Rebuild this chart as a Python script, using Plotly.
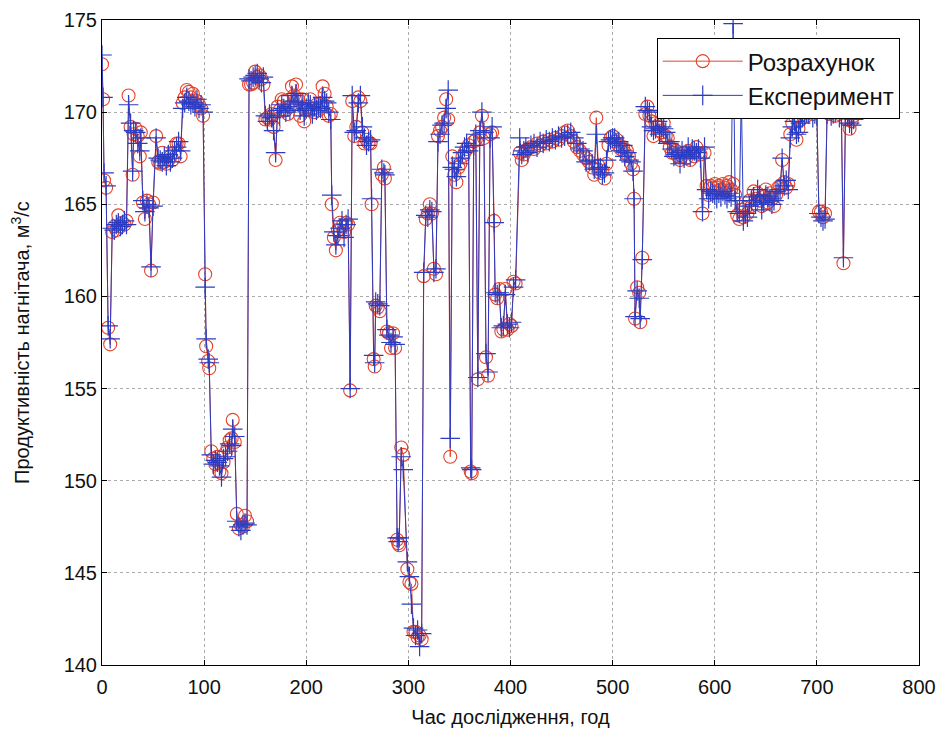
import plotly.graph_objects as go

# Час дослідження, год
hours = [
    0, 1, 2, 4, 6, 8, 10, 12, 14, 16, 18, 20, 22, 24, 26, 28, 30, 31, 33, 35,
    37, 38, 40, 42, 44, 46, 48, 50, 53, 55, 57, 59, 61, 63, 65, 67, 69, 71, 73, 75,
    77, 79, 81, 83, 85, 87, 89, 91, 93, 95, 97, 99, 101, 102, 104, 105, 107, 109, 111, 113,
    115, 117, 119, 121, 123, 125, 127, 128, 130, 132, 134, 136, 138, 140, 142, 144, 146, 148, 150, 152,
    154, 156, 158, 160, 162, 164, 166, 168, 170, 172, 174, 176, 178, 180, 182, 184, 186, 188, 190, 192,
    194, 196, 198, 200, 202, 204, 206, 208, 210, 212, 214, 216, 218, 220, 222, 224, 225, 227, 229, 231,
    233, 235, 237, 239, 241, 243, 245, 247, 249, 251, 253, 255, 257, 259, 261, 263, 264, 266, 267, 268,
    270, 272, 274, 276, 277, 279, 281, 283, 285, 287, 289, 290, 291, 293, 295, 299, 301, 303, 305, 307,
    309, 311, 313, 315, 317, 319, 321, 323, 325, 327, 329, 331, 333, 335, 337, 339, 341, 343, 345, 347,
    349, 351, 353, 355, 357, 359, 361, 362, 364, 366, 368, 370, 372, 374, 376, 378, 380, 382, 384, 385,
    387, 389, 391, 393, 395, 397, 399, 401, 403, 405, 409, 411, 413, 415, 417, 420, 423, 426, 429, 432,
    435, 438, 441, 444, 447, 450, 453, 456, 459, 462, 465, 468, 471, 474, 477, 480, 482, 484, 486, 488,
    490, 492, 494, 496, 498, 500, 502, 504, 506, 508, 510, 512, 514, 516, 518, 520, 521, 522, 524, 526,
    527, 529, 532, 534, 536, 538, 540, 542, 544, 546, 548, 550, 552, 554, 556, 558, 560, 562, 564, 566,
    568, 570, 572, 574, 576, 578, 580, 582, 584, 586, 588, 590, 592, 594, 596, 598, 600, 602, 604, 606,
    608, 610, 612, 614, 616, 618, 620, 622, 624, 626, 628, 630, 632, 634, 636, 638, 640, 642, 644, 646,
    648, 650, 652, 654, 656, 658, 660, 662, 664, 666, 668, 670, 672, 674, 676, 678, 680, 682, 684, 686,
    688, 690, 692, 694, 696, 698, 700, 702, 704, 706, 708, 710, 712, 714, 716, 718, 720, 722, 724, 726,
    728, 730, 732, 734, 736,
]

# Розрахунок (м3/с)
calc = [
    172.6, 170.7, 166.3, 165.9, 158.3, 157.4, 163.5, 163.8, 163.6, 164.4, 163.8, 164.0, 163.9, 164.1, 170.9, 169.2, 166.6, 168.8, 169.1, 168.7,
    167.6, 168.9, 165.1, 164.2, 165.2, 165.0, 161.4, 165.1, 168.7, 167.3, 167.2, 167.8, 167.3, 167.2, 167.4, 167.6, 167.4, 167.8, 168.3, 168.3,
    167.6, 170.5, 170.8, 171.2, 171.1, 170.8, 171.0, 170.5, 170.6, 170.4, 170.2, 169.8, 161.2, 157.3, 156.5, 156.1, 151.6, 151.2, 150.9, 151.3,
    150.5, 150.4, 151.0, 151.5, 151.8, 152.2, 152.3, 153.3, 152.1, 148.2, 147.4, 147.6, 147.5, 148.1, 147.8, 171.5, 171.5, 171.6, 172.2, 171.9,
    172.0, 171.8, 171.5, 169.6, 169.7, 169.6, 169.9, 169.2, 167.4, 170.3, 170.1, 170.7, 170.6, 170.1, 169.9, 170.3, 171.4, 170.9, 171.5, 170.7,
    169.8, 170.7, 169.5, 170.1, 170.3, 170.7, 170.2, 170.0, 170.4, 170.1, 170.5, 171.4, 171.0, 170.3, 169.8, 169.9, 165.0, 163.2, 162.5, 163.6,
    164.0, 163.8, 163.5, 164.0, 163.9, 154.9, 170.6, 168.7, 169.2, 170.8, 170.6, 168.9, 168.3, 168.5, 168.3, 168.3, 165.0, 156.6, 156.2, 159.5,
    159.4, 159.2, 166.6, 167.0, 166.4, 158.1, 158.0, 157.2, 158.0, 157.2, 146.8, 146.6, 146.5, 151.8, 151.4, 145.2, 144.5, 144.4, 141.8, 141.8,
    141.5, 141.6, 141.4, 161.1, 164.2, 164.5, 165.0, 164.5, 161.5, 161.2, 168.7, 169.0, 169.2, 169.7, 170.7, 169.6, 151.3, 167.6, 166.6, 166.2,
    167.0, 167.2, 167.6, 167.8, 168.0, 168.2, 150.5, 150.4, 168.4, 168.5, 155.5, 168.9, 169.8, 168.6, 156.7, 155.7, 168.8, 168.9, 164.1, 160.1,
    159.9, 160.4, 158.1, 158.2, 160.4, 158.2, 158.5, 158.4, 160.8, 160.7, 167.8, 167.4, 167.7, 167.9, 168.0, 168.1, 168.0, 168.3, 168.2, 168.4,
    168.3, 168.5, 168.4, 168.6, 168.5, 168.7, 168.9, 169.0, 168.7, 168.4, 168.1, 167.9, 167.7, 167.5, 167.3, 167.0, 166.6, 169.7, 167.1, 166.7,
    166.8, 166.4, 167.2, 168.2, 168.6, 168.7, 168.4, 168.5, 168.2, 168.0, 168.1, 167.8, 167.9, 167.6, 167.2, 166.9, 165.3, 158.8, 160.5, 160.2,
    158.6, 162.1, 169.9, 170.3, 169.8, 169.5, 168.7, 169.4, 169.2, 169.0, 168.9, 169.4, 168.7, 168.6, 168.1, 167.8, 167.8, 167.9, 167.6, 167.4,
    167.6, 167.8, 167.5, 167.9, 167.4, 167.8, 167.6, 168.1, 167.8, 167.7, 164.5, 167.8, 166.0, 165.5, 166.0, 165.9, 166.1, 165.9, 166.0, 165.8,
    166.1, 165.9, 166.0, 166.2, 165.8, 166.1, 165.5, 164.4, 164.2, 164.7, 164.3, 164.8, 164.5, 165.2, 164.9, 165.7, 165.3, 165.6, 165.2, 164.9,
    165.4, 165.8, 165.1, 165.6, 165.3, 164.9, 165.5, 165.9, 166.0, 167.4, 166.2, 165.9, 166.1, 168.8, 169.4, 169.8, 168.5, 169.1, 169.6, 169.9,
    170.1, 169.8, 170.2, 170.0, 169.9, 170.1, 170.0, 164.6, 164.6, 164.3, 164.5, 170.1, 169.9, 170.0, 170.2, 169.8, 170.1, 169.9, 170.0, 161.8,
    170.0, 169.6, 169.1, 169.5, 169.8,
]

# Експеримент (м3/с)
exp = [
    173.1, 170.8, 166.7, 166.0, 158.4, 157.7, 163.7, 163.6, 163.9, 164.0, 163.8, 163.9, 164.1, 163.9, 170.4, 169.4, 166.8, 169.0, 168.9, 168.3,
    167.9, 168.6, 165.2, 164.6, 165.0, 164.8, 161.6, 164.9, 168.6, 167.5, 167.4, 167.3, 167.6, 167.1, 167.7, 167.3, 167.5, 167.9, 168.1, 168.4,
    167.9, 170.2, 170.5, 170.8, 170.6, 170.4, 170.5, 170.3, 170.7, 170.2, 170.4, 170.0, 160.5, 157.7, 156.6, 156.4, 151.4, 150.9, 151.1, 151.0,
    150.8, 150.2, 151.2, 151.3, 151.6, 152.0, 151.9, 152.8, 152.4, 147.8, 147.5, 147.3, 147.6, 147.7, 147.6, 171.8, 171.7, 171.9, 172.0, 172.1,
    171.8, 171.6, 171.9, 169.8, 169.5, 169.9, 169.7, 169.0, 167.8, 170.1, 169.8, 170.4, 170.2, 170.0, 170.3, 170.1, 170.9, 170.6, 171.0, 170.5,
    170.1, 170.4, 169.8, 170.2, 170.5, 170.4, 169.9, 170.3, 170.1, 170.3, 170.2, 170.8, 170.6, 170.5, 170.0, 169.6, 165.5, 163.5, 162.8, 163.3,
    163.7, 164.1, 163.2, 163.9, 164.2, 155.0, 170.9, 168.9, 169.0, 170.5, 170.9, 169.2, 168.6, 168.2, 168.4, 168.5, 165.3, 156.8, 156.4, 159.7,
    159.6, 159.5, 166.9, 166.7, 166.6, 158.2, 157.9, 157.5, 157.8, 157.4, 146.9, 146.7, 146.9, 151.3, 150.6, 145.6, 144.8, 143.3, 142.0, 141.6,
    141.9, 141.0, 141.7, 161.3, 164.4, 164.3, 164.7, 164.6, 161.3, 161.5, 168.4, 168.8, 169.3, 169.4, 170.2, 171.2, 152.3, 167.0, 166.9, 166.5,
    167.2, 167.5, 167.8, 168.1, 168.3, 167.9, 150.7, 150.6, 168.2, 168.8, 155.6, 169.0, 170.0, 168.9, 156.9, 155.9, 168.6, 169.2, 164.0, 160.2,
    160.1, 160.2, 158.3, 158.4, 160.1, 158.5, 158.3, 158.6, 160.5, 160.9, 168.6, 167.7, 167.9, 168.1, 167.8, 168.2, 168.3, 168.1, 168.4, 168.3,
    168.5, 168.4, 168.6, 168.5, 168.7, 168.6, 168.7, 168.8, 168.9, 168.6, 168.3, 168.0, 167.9, 167.3, 167.4, 167.2, 166.9, 168.8, 166.9, 167.0,
    166.6, 166.7, 167.4, 168.4, 168.5, 168.6, 168.6, 168.3, 168.4, 167.9, 168.2, 167.6, 167.8, 167.4, 167.3, 166.8, 165.3, 158.9, 160.3, 159.9,
    158.8, 162.0, 170.3, 170.1, 170.0, 169.2, 169.0, 169.1, 169.5, 168.8, 169.2, 169.1, 168.9, 168.3, 168.4, 168.0, 167.6, 167.7, 167.8, 167.2,
    167.9, 167.5, 167.7, 168.1, 167.6, 168.0, 167.9, 167.8, 168.0, 167.5, 164.6, 168.1, 165.8, 165.3, 165.7, 165.6, 165.5, 165.3, 165.6, 165.4,
    165.7, 165.5, 165.3, 165.6, 165.4, 174.8, 165.2, 164.6, 164.5, 171.0, 164.1, 164.5, 164.3, 164.9, 165.2, 165.4, 165.0, 165.8, 165.5, 164.7,
    165.1, 165.5, 165.4, 165.3, 165.0, 165.2, 165.7, 165.6, 165.8, 167.5, 166.0, 166.3, 165.8, 168.6, 169.2, 169.5, 168.8, 168.9, 169.4, 169.7,
    169.8, 170.0, 169.9, 170.2, 169.7, 169.9, 169.8, 164.5, 164.3, 164.1, 164.2, 169.9, 170.1, 169.8, 169.9, 170.0, 170.2, 169.7, 169.8, 162.1,
    169.7, 169.8, 169.4, 169.3, 169.6,
]

x_ticks = [0, 100, 200, 300, 400, 500, 600, 700, 800]
y_ticks = [140, 145, 150, 155, 160, 165, 170, 175]

RED = "#e5432b"
BLUE = "#2b3cc4"
FONT = "Liberation Sans, Arial, Helvetica, sans-serif"

fig = go.Figure()

fig.add_trace(go.Scatter(
    x=hours, y=calc, mode="lines+markers", name="Розрахунок",
    line=dict(color=RED, width=1),
    marker=dict(symbol="circle-open", size=13, color=RED, line=dict(width=1.1, color=RED)),
))

fig.add_trace(go.Scatter(
    x=hours, y=exp, mode="lines+markers", name="Експеримент",
    line=dict(color=BLUE, width=1),
    marker=dict(symbol="cross-thin-open", size=14, color=BLUE, line=dict(width=1.2, color=BLUE)),
))

axis_common = dict(
    showline=True, linecolor="black", linewidth=1, mirror="ticks",
    ticks="inside", ticklen=5, tickcolor="black",
    showgrid=True, gridcolor="#ababab", gridwidth=1, griddash="dot",
    zeroline=False, automargin=False,
    tickfont=dict(family=FONT, size=20, color="#111"),
)

fig.update_xaxes(
    range=[0, 800], tickvals=x_ticks, ticktext=[str(v) for v in x_ticks],
    ticklabelstandoff=4,
    title=dict(text="Час дослідження, год", font=dict(family=FONT, size=20, color="#111"), standoff=12),
    **axis_common,
)
fig.update_yaxes(
    range=[140, 175], tickvals=y_ticks, ticktext=[str(v) for v in y_ticks],
    title=dict(text="Продуктивність нагнітача, м<sup>3</sup>/с",
               font=dict(family=FONT, size=20, color="#111"), standoff=28),
    **axis_common,
)

fig.update_layout(
    width=944, height=732,
    margin=dict(l=102, r=25, t=20, b=67),
    paper_bgcolor="white", plot_bgcolor="white",
    showlegend=True,
    legend=dict(
        x=0.679, y=0.972, xanchor="left", yanchor="top",
        bgcolor="white", bordercolor="black", borderwidth=1,
        font=dict(family=FONT, size=24, color="#111"),
        itemwidth=80, tracegroupgap=2,
    ),
)

fig.write_html("out.html")
